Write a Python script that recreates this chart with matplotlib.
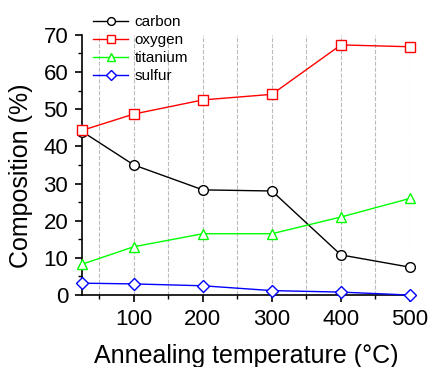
import matplotlib
matplotlib.use("Agg")
import matplotlib.pyplot as plt
from matplotlib.ticker import MultipleLocator

plt.rcParams['font.family'] = ['Liberation Sans', 'DejaVu Sans']

temps = [25, 100, 200, 300, 400, 500]
carbon = [44.0, 35.0, 28.3, 28.0, 10.8, 7.5]
oxygen = [44.3, 48.7, 52.5, 54.0, 67.3, 66.8]
titanium = [8.3, 13.0, 16.5, 16.5, 21.0, 26.0]
sulfur = [3.2, 3.0, 2.5, 1.2, 0.8, 0.0]

fig = plt.figure(figsize=(4.32, 3.67), dpi=100)
ax = fig.add_axes([0.19, 0.196, 0.759, 0.709])

series = [
    ("carbon", carbon, "black", "o"),
    ("oxygen", oxygen, "red", "s"),
    ("titanium", titanium, "#00ff00", "^"),
    ("sulfur", sulfur, "blue", "D"),
]
for name, vals, col, mk in series:
    ax.plot(temps, vals, color=col, lw=1.0, marker=mk, ms=7 if mk != "D" else 6,
            mfc="white", mec=col, mew=1.0, label=name, clip_on=False, zorder=3)

ax.set_xlim(25, 500)
ax.set_ylim(0, 70)
ax.xaxis.set_major_locator(MultipleLocator(100))
ax.xaxis.set_minor_locator(MultipleLocator(50))
ax.yaxis.set_major_locator(MultipleLocator(10))
ax.yaxis.set_minor_locator(MultipleLocator(5))
ax.set_xticks([100, 200, 300, 400, 500])
ax.grid(True, which="both", axis="x", ls="--", color="#bbbbbb", lw=0.8)
for s in ["top", "right"]:
    ax.spines[s].set_visible(False)
for s in ["left", "bottom"]:
    ax.spines[s].set_linewidth(1.2)
ax.tick_params(which="major", direction="out", length=5, width=1.2, labelsize=16)
ax.tick_params(which="minor", direction="out", length=3, width=1.0)
ax.tick_params(axis="x", which="major", pad=5)
ax.tick_params(axis="y", which="major", pad=5)

ax.set_xlabel("Annealing temperature (°C)", fontsize=18, labelpad=10)
ax.set_ylabel("Composition (%)", fontsize=18)
ax.yaxis.set_label_coords(-0.15, 0.458)

leg = ax.legend(loc="upper left", bbox_to_anchor=(0.015, 1.1), frameon=False,
                fontsize=11, handlelength=2.3, handletextpad=0.4,
                labelspacing=0.26, borderaxespad=0, markerscale=0.8)

fig.savefig("out.png", dpi=100)
